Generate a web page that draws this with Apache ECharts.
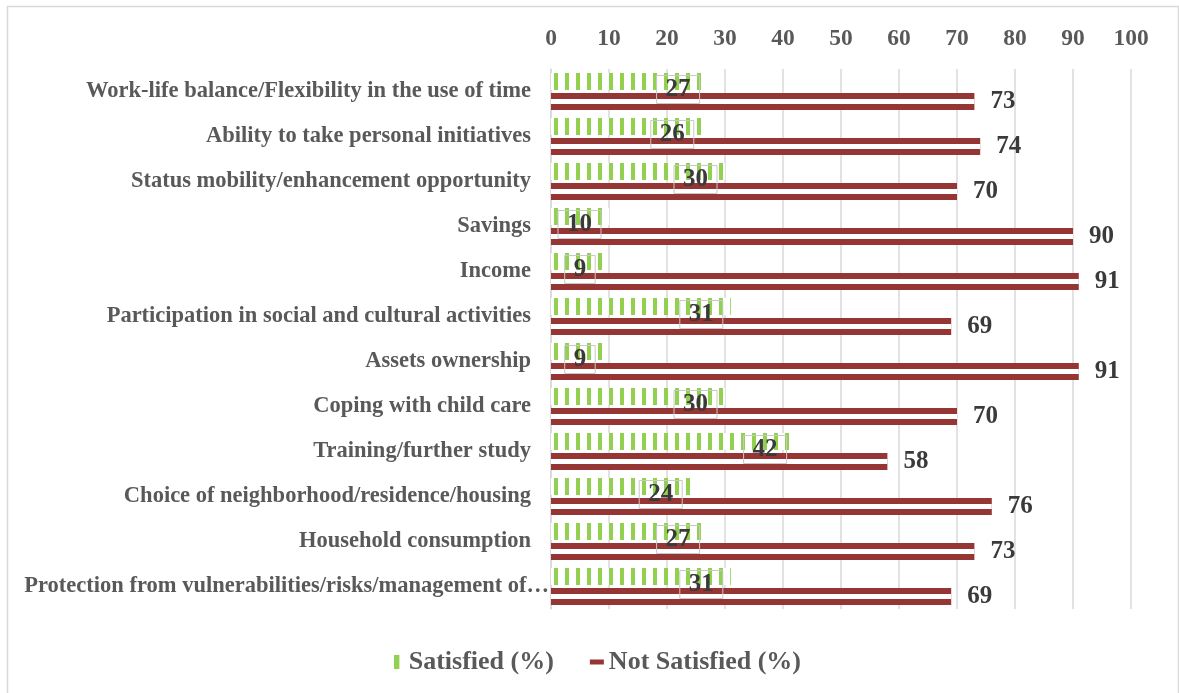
<!DOCTYPE html>
<html>
<head>
<meta charset="utf-8">
<title>Satisfaction by aspect</title>
<script src="https://cdn.jsdelivr.net/npm/echarts@6/dist/echarts.min.js"></script>
<style>
  html, body { margin: 0; padding: 0; background: #ffffff; }
  #chart { width: 1179px; height: 693px; }
</style>
</head>
<body>
<div id="chart"></div>
<script>
// Aspects, listed top to bottom
const categories = [
  'Work-life balance/Flexibility in the use of time',
  'Ability to take personal initiatives',
  'Status mobility/enhancement opportunity',
  'Savings',
  'Income',
  'Participation in social and cultural activities',
  'Assets ownership',
  'Coping with child care',
  'Training/further study',
  'Choice of neighborhood/residence/housing',
  'Household consumption',
  'Protection from vulnerabilities/risks/management of\u2026'
];
const satisfied    = [27, 26, 30, 10, 9, 31, 9, 30, 42, 24, 27, 31];
const notSatisfied = [73, 74, 70, 90, 91, 69, 91, 70, 58, 76, 73, 69];
const xTicks = [0, 10, 20, 30, 40, 50, 60, 70, 80, 90, 100];

const SERIF = '"Liberation Serif", "Times New Roman", serif';
const GREEN = '#92d050';
const RED = '#963634';
const LAST = categories[categories.length - 1];

const chart = echarts.init(document.getElementById('chart'), null, { renderer: 'canvas' });

chart.setOption({
  backgroundColor: '#ffffff',
  animation: false,
  graphic: [{
    type: 'rect',
    silent: true,
    shape: { x: 7.5, y: 6.5, width: 1171, height: 720 },
    style: { fill: 'none', stroke: '#d9d9d9', lineWidth: 1.5 }
  }],
  grid: { left: 551, right: 48, top: 69, height: 540, containLabel: false },
  legend: {
    left: 389,
    top: 644,
    itemGap: 36,
    itemWidth: 14,
    itemHeight: 14,
    textStyle: { fontFamily: SERIF, fontWeight: 'bold', fontSize: 26, color: '#595959' },
    data: [
      { name: 'Satisfied (%)', icon: 'path://M0 0H5V13H0Z', itemStyle: { color: GREEN, decal: 'none' } },
      { name: 'Not Satisfied (%)', icon: 'path://M0 0H14V5H0Z', itemStyle: { color: RED, decal: 'none' } }
    ]
  },
  xAxis: {
    type: 'value',
    position: 'top',
    min: xTicks[0],
    max: xTicks[xTicks.length - 1],
    interval: xTicks[1] - xTicks[0],
    axisLine: { show: false },
    axisTick: { show: false },
    splitLine: { show: true, lineStyle: { color: '#d9d9d9', width: 1.5 } },
    axisLabel: { margin: 18, fontFamily: SERIF, fontWeight: 'bold', fontSize: 23.5, color: '#595959' }
  },
  yAxis: {
    type: 'category',
    inverse: true,
    data: categories,
    axisLine: { show: true, lineStyle: { color: '#d9d9d9', width: 1.5 } },
    axisTick: { show: false },
    axisLabel: {
      margin: 20, fontFamily: SERIF, fontWeight: 'bold', fontSize: 22.5, color: '#595959',
      // the long last label sits closer to the axis
      formatter: function (v) { return v === LAST ? '{tight|' + v + '}' : v; },
      rich: {
        tight: { fontFamily: SERIF, fontWeight: 'bold', fontSize: 22.5, color: '#595959', padding: [0, -18, 0, 0] }
      }
    }
  },
  series: [
    {
      name: 'Satisfied (%)',
      type: 'bar',
      data: satisfied,
      barWidth: 17,
      barGap: '18%',
      itemStyle: {
        color: '#ffffff',
        decal: {
          symbol: 'rect', symbolSize: 1, symbolKeepAspect: false, rotation: 0,
          color: GREEN,
          dashArrayX: [[0, 4, 4, 3]],
          dashArrayY: [10, 0]
        }
      },
      label: {
        show: true,
        position: 'insideRight',
        distance: 8,
        offset: [0, 8],
        fontFamily: SERIF, fontWeight: 'bold', fontSize: 25, color: '#3a3a3a',
        lineHeight: 24,
        padding: [2, 9, 2, 9],
        borderColor: '#c8c8c8',
        borderWidth: 1
      }
    },
    {
      name: 'Not Satisfied (%)',
      type: 'bar',
      data: notSatisfied,
      barWidth: 17,
      barGap: '18%',
      itemStyle: {
        color: RED,
        decal: {
          symbol: 'rect', symbolSize: 1, symbolKeepAspect: false, rotation: 0,
          color: '#ffffff',
          dashArrayX: [[10, 0]],
          dashArrayY: [0, 9, 5, 31]
        }
      },
      label: {
        show: true,
        position: 'right',
        distance: 16,
        fontFamily: SERIF, fontWeight: 'bold', fontSize: 25, color: '#3a3a3a'
      }
    }
  ]
});
</script>
</body>
</html>
